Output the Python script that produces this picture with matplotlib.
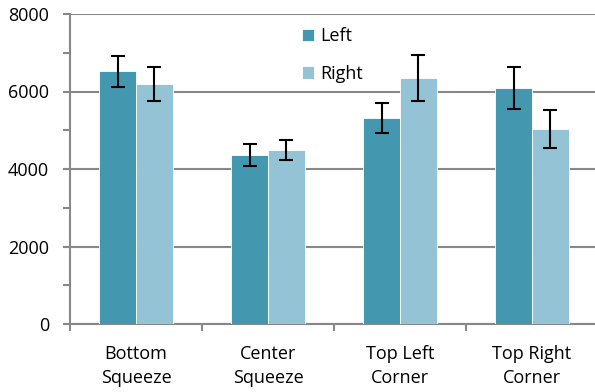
import numpy as np
import matplotlib.pyplot as plt
from matplotlib.ticker import MultipleLocator

categories = ['Bottom\nSqueeze', 'Center\nSqueeze', 'Top Left\nCorner', 'Top Right\nCorner']
left_vals = [6520, 4360, 5310, 6090]
right_vals = [6190, 4490, 6350, 5030]
left_err = [400, 290, 390, 540]
right_err = [440, 260, 590, 490]

plt.rcParams['font.family'] = ['Open Sans', 'DejaVu Sans']

fig = plt.figure(figsize=(5.95, 3.92), dpi=100)
ax = fig.add_axes([70 / 595, 1 - 324 / 392, 528 / 595, 310 / 392])

x = np.arange(len(categories))
w = 0.28
err_kw = dict(ecolor='black', elinewidth=1.5, capsize=4.7, capthick=1.5)
ax.bar(x - w / 2, left_vals, w, yerr=left_err, color='#4398b0', label='Left',
       edgecolor='white', linewidth=0.6, error_kw=err_kw, zorder=3)
ax.bar(x + w / 2, right_vals, w, yerr=right_err, color='#93c3d5', label='Right',
       edgecolor='white', linewidth=0.6, error_kw=err_kw, zorder=3)

ax.set_xlim(-0.5, 3.5)
ax.set_ylim(0, 8000)
ax.set_yticks([0, 2000, 4000, 6000, 8000])
ax.yaxis.set_minor_locator(MultipleLocator(1000))
ax.set_xticks(x)
ax.set_xticklabels(categories, fontsize=13, linespacing=1.45)
ax.set_xticks(np.arange(-0.5, 4, 1), minor=True)
ax.tick_params(axis='x', which='major', length=0, pad=15)
ax.tick_params(axis='x', which='minor', length=5, color='#888888', width=1.5, direction='out')
ax.tick_params(axis='y', which='both', length=5, color='#888888', width=1.5, labelsize=13, pad=10)
ax.grid(axis='y', color='#888888', linewidth=1.5, zorder=0)

for s in ['top', 'right']:
    ax.spines[s].set_visible(False)
for s in ['left', 'bottom']:
    ax.spines[s].set_color('#888888')
    ax.spines[s].set_linewidth(1.5)

ax.legend(loc='upper left', bbox_to_anchor=(0.44, 0.958), frameon=False, fontsize=13,
          borderpad=0, borderaxespad=0,
          handlelength=0.67, handleheight=0.67, handletextpad=0.3, labelspacing=1.1)

fig.savefig('out.png', dpi=100)
